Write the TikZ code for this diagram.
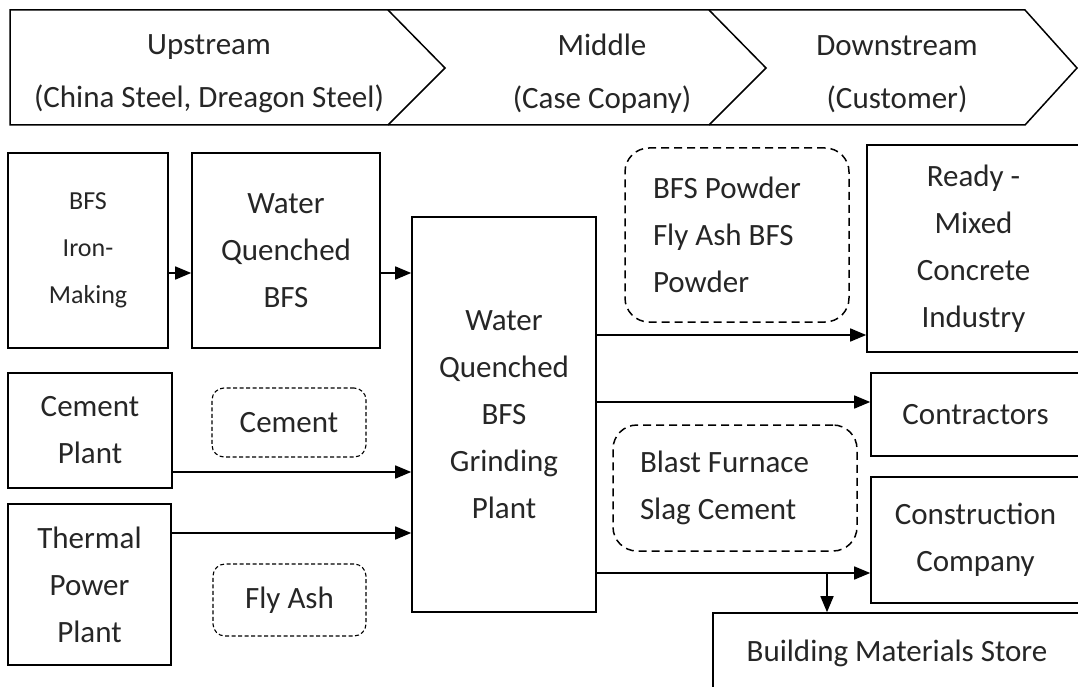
\documentclass[tikz,border=0pt]{standalone}
\usepackage{fontspec}
\setmainfont{Carlito}
\usetikzlibrary{arrows.meta}

\tikzset{
    stage/.style={align=center, text=black!85, font=\fontsize{31}{53}\selectfont},
    unit/.style={draw, line width=1.6pt, align=center, inner sep=0pt, text=black!85,
                 font=\fontsize{31}{47}\selectfont},
    goods/.style={draw, line width=1.5pt, dash pattern=on 8pt off 5pt, rounded corners=24pt,
                  align=flush left, inner sep=0pt, text=black!85, font=\fontsize{31}{47}\selectfont},
    rawgoods/.style={draw, line width=1.1pt, dash pattern=on 4pt off 2.5pt, rounded corners=12pt,
                     align=center, inner sep=0pt, text=black!85, font=\fontsize{31}{47}\selectfont},
    flow/.style={line width=1.6pt, -{Triangle[length=16pt,width=13pt]}}
}

\begin{document}
\begin{tikzpicture}[x=1pt, y=-1pt]
    		% picture frame
    		\useasboundingbox (0,0) rectangle (1078,687);
    		\clip (0,0) rectangle (1078,687);

    		% Draw the chain band
    		\draw[line width=1.5pt] (10,10) -- (1025,10) -- (1077,68) -- (1025,125) -- (10,125) -- cycle;
    		\draw[line width=1.5pt] (388,10) -- (445,68) -- (388,125); % end upstream
    		\draw[line width=1.5pt] (709,10) -- (766,68) -- (709,125); % end middle

    		\node[stage] (up)   at (209,74) {Upstream\\(China Steel, Dreagon Steel)};
    		\node[stage] (mid)  at (602,74) {Middle\\(Case Copany)};
    		\node[stage] (down) at (897,74) {Downstream\\(Customer)};

    		% Upstream units
    		\node[unit, minimum width=160pt, minimum height=195pt, font=\fontsize{26}{47}\selectfont]
    		    (iron) at (88,250.5) {BFS\\Iron-\\Making};
    		\node[unit, minimum width=188pt, minimum height=195pt] (wqbfs) at (286,250.5) {Water\\Quenched\\BFS};
    		\node[unit, minimum width=164pt, minimum height=115pt] (cemp)  at (90,430.5)  {Cement\\Plant};
    		\node[unit, minimum width=163pt, minimum height=161pt] (therm) at (89.5,584.5) {Thermal\\Power\\Plant};

    		\node[rawgoods, minimum width=154pt, minimum height=69pt] (cem) at (289,422.5) {Cement};
    		\node[rawgoods, minimum width=153pt, minimum height=72pt] (ash) at (289.5,600) {Fly Ash};

    		% Middle unit
    		\node[unit, minimum width=184pt, minimum height=395pt] (grind) at (504,414.5)
    		    {Water\\Quenched\\BFS\\Grinding\\Plant};

    		% Downstream units
    		\node[unit, minimum width=213pt, minimum height=207pt] (ready)  at (973.5,248.5) {Ready -\\Mixed\\Concrete\\Industry};
    		\node[unit, minimum width=209pt, minimum height=83pt]  (contr)  at (975.5,414.5) {Contractors};
    		\node[unit, minimum width=209pt, minimum height=126pt] (constr) at (975.5,540)   {Construction\\Company};
    		\node[unit, minimum width=368pt, minimum height=80pt]  (store)  at (897,653)     {Building Materials Store};

    		\node[goods, minimum width=224pt, minimum height=174pt, text width=168pt] (powder) at (737,235)
    		    {BFS Powder\\Fly Ash BFS\\Powder};
    		\node[goods, minimum width=244pt, minimum height=126pt, text width=190pt] (slag) at (735,488)
    		    {Blast Furnace\\Slag Cement};

    		% Flows
    		\coordinate (i1) at ([yshift=-22.5pt]iron.east);
    		\coordinate (w1) at ([yshift=-22.5pt]wqbfs.east);
    		\coordinate (c1) at ([yshift=-41.5pt]cemp.east);
    		\coordinate (t1) at ([yshift=51.5pt]therm.east);
    		\draw[flow] (i1) -- (i1 -| wqbfs.west);
    		\draw[flow] (w1) -- (w1 -| grind.west);
    		\draw[flow] (c1) -- (c1 -| grind.west);
    		\draw[flow] (t1) -- (t1 -| grind.west);

    		\coordinate (g1) at ([yshift=79.5pt]grind.east);
    		\coordinate (g2) at ([yshift=12.5pt]grind.east);
    		\coordinate (g3) at ([yshift=-158.5pt]grind.east);
    		\draw[flow] (g1) -- (g1 -| ready.west);
    		\draw[flow] (g2) -- (g2 -| contr.west);
    		\draw[flow] (g3) -- (g3 -| constr.west);

    		\coordinate (drop) at (827,573);
    		\draw[flow] (drop) -- (drop |- store.north);
    	\end{tikzpicture}
\end{document}
